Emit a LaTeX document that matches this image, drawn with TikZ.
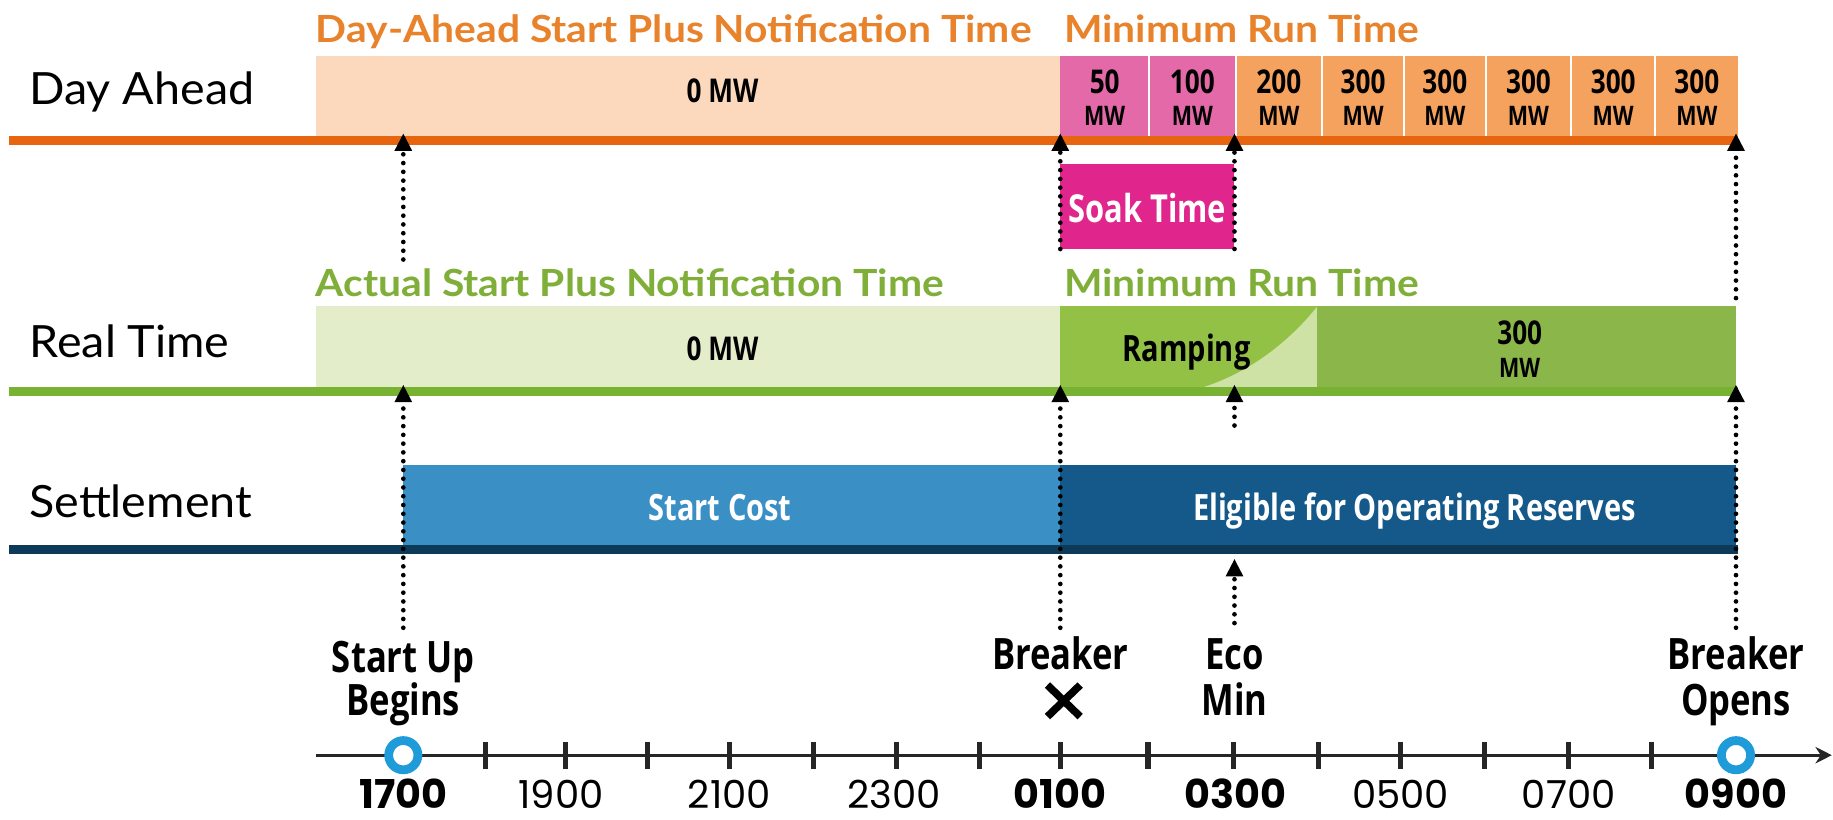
\documentclass[tikz,border=0pt]{standalone}
\usepackage{fontspec}
\usetikzlibrary{arrows.meta}
\newfontfamily\rowf[FakeStretch=1.05]{Lato}
\newfontfamily\titf[FakeStretch=1.09]{Lato}
\newfontfamily\condf[FakeStretch=0.8]{Open Sans}
\newfontfamily\timef{Poppins}
\definecolor{dabarc}{HTML}{FCD9BC}
\definecolor{dapink}{HTML}{E469A8}
\definecolor{daorng}{HTML}{F5A25F}
\definecolor{dalinec}{HTML}{E8650F}
\definecolor{datitc}{HTML}{E8822B}
\definecolor{soakc}{HTML}{E0258C}
\definecolor{rttitc}{HTML}{7FAF38}
\definecolor{rtbarc}{HTML}{E4EDC9}
\definecolor{rampdark}{HTML}{93C146}
\definecolor{ramplight}{HTML}{CDE2A4}
\definecolor{rtfull}{HTML}{8BB74A}
\definecolor{rtlinec}{HTML}{78B233}
\definecolor{startc}{HTML}{3A8FC5}
\definecolor{eligc}{HTML}{15598B}
\definecolor{stlinec}{HTML}{0E3A5A}
\definecolor{ringc}{HTML}{1E9BD8}
\begin{document}
\begin{tikzpicture}[x=1pt,y=-1pt,
  rowlabel/.style={anchor=base west, inner sep=0, font=\rowf\fontsize{38}{40}\selectfont},
  ttl/.style={anchor=base west, inner sep=0, font=\titf\bfseries\fontsize{32}{34}\selectfont},
  bx/.style={anchor=north west, inner sep=0, outer sep=0, draw=none},
  lbl/.style={anchor=base, inner sep=0, font=\condf\bfseries\fontsize{#1}{#1}\selectfont},
  lbl/.default=28,
  tml/.style={anchor=base, inner sep=0, text depth=0pt, font=\timef\fontsize{33}{33}\selectfont},
  tmb/.style={anchor=base, inner sep=0, text depth=0pt, font=\timef\bfseries\fontsize{34}{34}\selectfont},
  lane/.style={line width=8pt},
  sepline/.style={white, line width=1.6pt},
  dots/.style={black, line width=4pt, dash pattern=on 0pt off 7.5pt, line cap=round},
  up/.style={-{Triangle[width=14pt,length=15pt]}},
  ring/.style={circle, draw=ringc, line width=7.5pt, fill=white, minimum size=25pt, inner sep=0},
  tick/.style={line width=4.5pt, black!85},
]
\useasboundingbox (0,0) rectangle (1568,701);
\fill[white] (0,0) rectangle (1568,701);

% ---------- row labels ----------
\node[rowlabel] (lda) at (25,89) {Day Ahead};
\node[rowlabel] (lrt) at (25,306) {Real Time};
\node[rowlabel] (lst) at (25,443) {Settlement};

% ---------- Day Ahead ----------
\node[ttl, text=datitc] (tda1) at (270,36) {Day-Ahead Start Plus Notification Time};
\node[ttl, text=datitc] (tda2) at (910,36) {Minimum Run Time};
\node[bx, fill=dabarc, minimum width=637pt, minimum height=68pt] (da0) at (270,48) {};
\node[bx, fill=dapink, minimum width=76pt, minimum height=68pt] (b1) at (907,48) {};
\node[bx, fill=dapink, minimum width=74pt, minimum height=68pt] (b2) at (983,48) {};
\node[bx, fill=daorng, minimum width=74pt, minimum height=68pt] (b3) at (1057,48) {};
\node[bx, fill=daorng, minimum width=70pt, minimum height=68pt] (b4) at (1131,48) {};
\node[bx, fill=daorng, minimum width=70pt, minimum height=68pt] (b5) at (1201,48) {};
\node[bx, fill=daorng, minimum width=73pt, minimum height=68pt] (b6) at (1271,48) {};
\node[bx, fill=daorng, minimum width=72pt, minimum height=68pt] (b7) at (1344,48) {};
\node[bx, fill=daorng, minimum width=71pt, minimum height=68pt] (b8) at (1416,48) {};
\foreach \b in {b1,b2,b3,b4,b5,b6,b7}{\draw[sepline] (\b.north east) -- (\b.south east);}
\node[lbl] (t0) at (618,88) {0 MW};
\foreach \b/\v in {b1/50,b2/100,b3/200,b4/300,b5/300,b6/300,b7/300,b8/300}{
  \node[lbl=28] (\b n) at ([yshift=-32pt]\b.north) {\v};
  \node[lbl=23] (\b m) at ([yshift=-59pt]\b.north) {MW};
}
\draw[lane, dalinec] (8,120) -- (1487,120);

% soak box
\node[bx, fill=soakc, minimum width=149pt, minimum height=73pt] (soak) at (907,140) {};
\node[lbl=33, text=white] (soakt) at ([yshift=-50pt]soak.north) {Soak Time};

% ---------- Real Time ----------
\node[ttl, text=rttitc] (trt1) at (270,254) {Actual Start Plus Notification Time};
\node[ttl, text=rttitc] (trt2) at (910,254) {Minimum Run Time};
\node[bx, fill=rtbarc, minimum width=637pt, minimum height=69pt] (rt0) at (270,262) {};
\node[bx, fill=rampdark, minimum width=220pt, minimum height=69pt] (ramp) at (907,262) {};
\fill[ramplight] (1127,262) -- (1127,331) -- (1030,331) .. controls (1070,318) and (1103,292) .. (1127,262) -- cycle;
\node[bx, fill=rtfull, minimum width=358pt, minimum height=69pt] (rt300) at (1127,262) {};
\node[lbl] (t0b) at (618,308) {0 MW};
\node[lbl=31] (rampt) at (1015,309) {Ramping};
\node[lbl=28] (r300n) at (1300,295) {300};
\node[lbl=23] (r300m) at (1300,323) {MW};
\draw[lane, rtlinec] (8,335) -- (1487,335);

% ---------- Settlement ----------
\node[bx, fill=startc, minimum width=562pt, minimum height=68pt] (sc) at (345,398) {};
\node[bx, fill=eligc, minimum width=578pt, minimum height=68pt] (el) at (907,398) {};
\node[lbl=31, text=white] (sct) at (616,445) {Start Cost};
\node[lbl=31, text=white] (elt) at (1210,445) {Eligible for Operating Reserves};
\draw[lane, stlinec] (8,470) -- (1487,470);

% ---------- timeline ----------
\draw[line width=2.6pt, black!85, -{Stealth[length=14pt,width=14pt]}] (270,646) -- (1567,646);
\foreach \x in {415,484,554,624,696,767,838,907,982,1055,1128,1198,1270,1342,1413}{
  \draw[tick] (\x,635) -- (\x,658);}
\node[ring] (c0) at (345,646) {};
\node[ring] (c1) at (1485,646) {};
\node[tmb] (h17) at (345,692) {1700};
\node[tml] (h19) at (480,692) {1900};
\node[tml] (h21) at (624,692) {2100};
\node[tml] (h23) at (765,692) {2300};
\node[tmb] (h01) at (907,692) {0100};
\node[tmb] (h03) at (1057,692) {0300};
\node[tml] (h05) at (1198,692) {0500};
\node[tml] (h07) at (1342,692) {0700};
\node[tmb] (h09) at (1485,692) {0900};

% event labels
\node[lbl=37] (e1a) at (345,575) {Start Up};
\node[lbl=37] (e1b) at (345,612) {Begins};
\node[lbl=37] (e2a) at (907,573) {Breaker};
\node[lbl=37] (e3a) at (1056,573) {Eco};
\node[lbl=37] (e3b) at (1056,612) {Min};
\node[lbl=37] (e4a) at (1485,573) {Breaker};
\node[lbl=37] (e4b) at (1485,612) {Opens};
\draw[line width=6.5pt] (896,586) -- (924,613) (896,613) -- (924,586);

% ---------- dotted connectors ----------
\coordinate (aS1) at (345,114); \coordinate (dS1) at (345,222);
\coordinate (aB1) at (907,114);
\coordinate (aE1) at (1056,114);
\coordinate (aO1) at (1485,114); \coordinate (dO1) at (1485,255);
\coordinate (aS2) at (345,329); \coordinate (dS2) at (345,537);
\coordinate (aB2) at (907,329); \coordinate (dB2) at (907,537);
\coordinate (aE2) at (1056,329); \coordinate (dE2) at (1056,364);
\coordinate (aO2) at (1485,329); \coordinate (dO2) at (1485,537);
\coordinate (aE3) at (1056,478); \coordinate (dE3) at (1056,533);
\draw[dots, up] (dS1) -- (aS1);
\draw[dots, up] (soak.south west) -- (aB1);
\draw[dots, up] (soak.south east) -- (aE1);
\draw[dots, up] (dO1) -- (aO1);
\draw[dots, up] (dS2) -- (aS2);
\draw[dots, up] (dB2) -- (aB2);
\draw[dots, up] (dE2) -- (aE2);
\draw[dots, up] (dO2) -- (aO2);
\draw[dots, up] (dE3) -- (aE3);
\end{tikzpicture}
\end{document}
